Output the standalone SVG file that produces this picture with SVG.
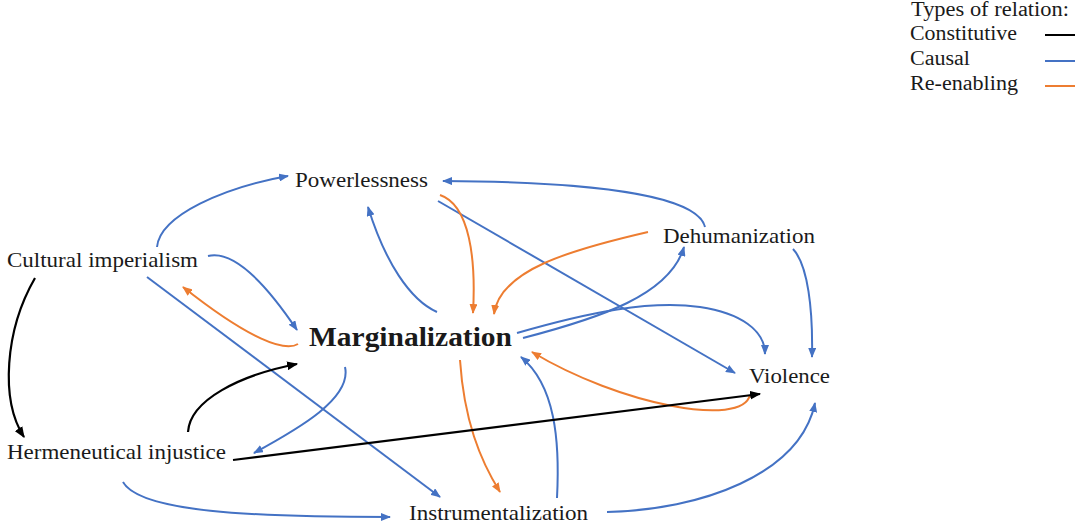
<svg xmlns="http://www.w3.org/2000/svg" width="1079" height="529" viewBox="0 0 1079 529">
  <defs>
    <marker id="ah-blue" viewBox="0 0 10 8" refX="9" refY="4" markerWidth="10" markerHeight="8" markerUnits="userSpaceOnUse" orient="auto">
      <path d="M0,0 L10,4 L0,8 z" fill="#4472C4"/>
    </marker>
    <marker id="ah-orange" viewBox="0 0 10 8" refX="9" refY="4" markerWidth="10" markerHeight="8" markerUnits="userSpaceOnUse" orient="auto">
      <path d="M0,0 L10,4 L0,8 z" fill="#ED7D31"/>
    </marker>
    <marker id="ah-black" viewBox="0 0 10 8" refX="9" refY="4" markerWidth="11" markerHeight="9" markerUnits="userSpaceOnUse" orient="auto">
      <path d="M0,0 L10,4 L0,8 z" fill="#000"/>
    </marker>
  </defs>
  <style>
    text { font-family: "Liberation Serif", "Times New Roman", serif; fill: #1a1a1a; }
    .lbl { font-size: 21.5px; }
    .main { font-size: 28px; font-weight: bold; }
    .leg { font-size: 20px; }
    .e { fill: none; stroke-width: 2; }
    .causal { stroke: #4472C4; marker-end: url(#ah-blue); }
    .reen { stroke: #ED7D31; marker-end: url(#ah-orange); }
    .const { stroke: #000; marker-end: url(#ah-black); stroke-width: 2.2; }
  </style>
  <rect width="1079" height="529" fill="#fff"/>

  <!-- legend -->
  <g id="legend">
    <text class="leg" x="911" y="16" textLength="158" lengthAdjust="spacingAndGlyphs">Types of relation:</text>
    <text class="leg" x="910" y="40" textLength="107" lengthAdjust="spacingAndGlyphs">Constitutive</text>
    <text class="leg" x="910" y="65" textLength="60" lengthAdjust="spacingAndGlyphs">Causal</text>
    <text class="leg" x="910" y="90" textLength="108" lengthAdjust="spacingAndGlyphs">Re-enabling</text>
    <line x1="1045" y1="35" x2="1075" y2="35" stroke="#000" stroke-width="2"/>
    <line x1="1045" y1="61" x2="1075" y2="61" stroke="#4472C4" stroke-width="2"/>
    <line x1="1045" y1="86" x2="1075" y2="86" stroke="#ED7D31" stroke-width="2"/>
  </g>

  <!-- connectors -->
  <g id="connectors">
    <!-- causal -->
    <path class="e causal" d="M157,247 C160,215 225,187 288,176"/>
    <path class="e causal" d="M208,256 C232,250 262,278 297,330"/>
    <path class="e causal" d="M147,277 L440,497"/>
    <path class="e causal" d="M345,367 C352,398 300,428 254,453"/>
    <path class="e causal" d="M123,482 C140,512 250,517 390,517"/>
    <path class="e causal" d="M607,512 C700,510 800,475 815,403"/>
    <path class="e causal" d="M557,498 C560,440 555,385 521,357"/>
    <path class="e causal" d="M437,312 C410,300 385,262 368,207"/>
    <path class="e causal" d="M438,201 L735,373"/>
    <path class="e causal" d="M705,227 C698,198 610,182 443,181"/>
    <path class="e causal" d="M523,338 C600,318 670,295 684,247"/>
    <path class="e causal" d="M517,333 C590,312 650,300 700,307 C740,313 765,330 765,354"/>
    <path class="e causal" d="M793,249 C808,265 813,310 812,357"/>
    <!-- re-enabling -->
    <path class="e reen" d="M298,344 C285,352 250,340 183,287"/>
    <path class="e reen" d="M750,395 C742,428 620,405 532,352"/>
    <path class="e reen" d="M460,360 C464,420 480,460 500,492"/>
    <path class="e reen" d="M440,195 C470,205 476,260 473,313"/>
    <path class="e reen" d="M648,232 C570,250 500,270 494,314"/>
    <!-- constitutive -->
    <path class="e const" d="M35,278 C5,330 0,400 24,437"/>
    <path class="e const" d="M188,432 C190,400 240,375 297,364"/>
    <path class="e const" d="M233,460 L760,394"/>
  </g>

  <!-- nodes -->
  <g id="node-powerlessness"><text class="lbl" x="295" y="187" textLength="133" lengthAdjust="spacingAndGlyphs">Powerlessness</text></g>
  <g id="node-marginalization"><text class="main" x="309" y="346" textLength="203" lengthAdjust="spacingAndGlyphs">Marginalization</text></g>
  <g id="node-cultural-imperialism"><text class="lbl" x="7" y="267" textLength="191" lengthAdjust="spacingAndGlyphs">Cultural imperialism</text></g>
  <g id="node-hermeneutical-injustice"><text class="lbl" x="7" y="459" textLength="219" lengthAdjust="spacingAndGlyphs">Hermeneutical injustice</text></g>
  <g id="node-dehumanization"><text class="lbl" x="663" y="243" textLength="152" lengthAdjust="spacingAndGlyphs">Dehumanization</text></g>
  <g id="node-violence"><text class="lbl" x="749" y="383" textLength="81" lengthAdjust="spacingAndGlyphs">Violence</text></g>
  <g id="node-instrumentalization"><text class="lbl" x="409" y="520" textLength="179" lengthAdjust="spacingAndGlyphs">Instrumentalization</text></g>
</svg>
